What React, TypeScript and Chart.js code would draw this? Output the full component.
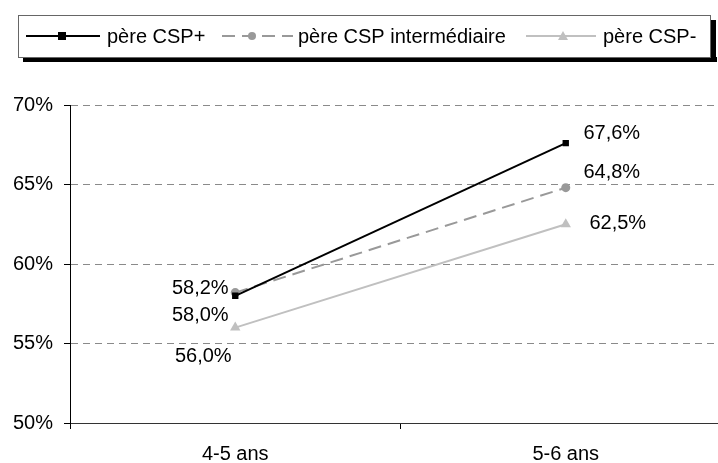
import React, { useEffect, useRef } from "react";
import { Chart, registerables } from "chart.js";

Chart.register(...registerables);

const categories = ["4-5 ans", "5-6 ans"];
const seriesNames = ["père CSP+", "père CSP intermédiaire", "père CSP-"];
const cspPlus = [58.0, 67.6];
const cspInter = [58.2, 64.8];
const cspMoins = [56.0, 62.5];
const yTicks = [50, 55, 60, 65, 70];

const FONT = "'Liberation Sans', Arial, sans-serif";

// label offsets (px) relative to each point: [dataset][point]
const labelOffsets = [
  [[-35, 20], [46, -10]],
  [[-35, -4], [46, -15]],
  [[-32, 29], [52, -1]],
];

const fmt = (v: number) => v.toFixed(1).replace(".", ",") + "%";

const dataLabelPlugin = {
  id: "dataLabels",
  afterDatasetsDraw(chart: any) {
    const ctx = chart.ctx;
    ctx.save();
    ctx.font = `20px ${FONT}`;
    ctx.fillStyle = "#000";
    ctx.textAlign = "center";
    ctx.textBaseline = "middle";
    chart.data.datasets.forEach((ds: any, i: number) => {
      const meta = chart.getDatasetMeta(i);
      meta.data.forEach((pt: any, j: number) => {
        const off = labelOffsets[i][j];
        ctx.fillText(fmt(ds.data[j]), pt.x + off[0], pt.y + off[1]);
      });
    });
    ctx.restore();
  },
};

function drawMarker(ctx: CanvasRenderingContext2D, style: string, x: number, y: number, color: string) {
  ctx.fillStyle = color;
  ctx.setLineDash([]);
  if (style === "rect") {
    ctx.fillRect(x - 4, y - 4, 8, 8);
  } else if (style === "circle") {
    ctx.beginPath();
    ctx.arc(x, y, 4, 0, Math.PI * 2);
    ctx.fill();
  } else {
    ctx.beginPath();
    ctx.moveTo(x, y - 5);
    ctx.lineTo(x + 5, y + 4);
    ctx.lineTo(x - 5, y + 4);
    ctx.closePath();
    ctx.fill();
  }
}

const legendPlugin = {
  id: "boxLegend",
  afterDraw(chart: any) {
    const ctx = chart.ctx as CanvasRenderingContext2D;
    const left = 18, top = 15, right = 710, bottom = 57;
    ctx.save();
    // shadow
    ctx.fillStyle = "#000";
    ctx.fillRect(left + 5, bottom, right - left + 2, 5);
    ctx.fillRect(right, top + 5, 6, bottom - top);
    // box
    ctx.fillStyle = "#fff";
    ctx.fillRect(left, top, right - left, bottom - top);
    ctx.strokeStyle = "#666";
    ctx.lineWidth = 1;
    ctx.strokeRect(left + 0.5, top + 0.5, right - left, bottom - top);
    const y = 36;
    const items = [
      { x1: 26, x2: 100, mx: 62, tx: 107 },
      { x1: 222, x2: 293, mx: 252, tx: 298 },
      { x1: 526, x2: 596, mx: 563, tx: 603 },
    ];
    ctx.font = `20px ${FONT}`;
    ctx.textBaseline = "middle";
    ctx.textAlign = "left";
    chart.data.datasets.forEach((ds: any, i: number) => {
      const it = items[i];
      ctx.strokeStyle = ds.borderColor;
      ctx.lineWidth = ds.borderWidth;
      ctx.setLineDash(ds.borderDash || []);
      ctx.beginPath();
      ctx.moveTo(it.x1, y);
      ctx.lineTo(it.x2, y);
      ctx.stroke();
      drawMarker(ctx, ds.pointStyle, it.mx, y, ds.pointBackgroundColor);
      ctx.fillStyle = "#000";
      ctx.fillText(ds.label, it.tx, y + 1);
    });
    ctx.restore();
  },
};

export default function App() {
  const ref = useRef<HTMLCanvasElement | null>(null);
  useEffect(() => {
    if (!ref.current) return;
    Chart.defaults.font.family = FONT;
    const chart = new Chart(ref.current, {
      type: "line",
      data: {
        labels: categories,
        datasets: [
          {
            label: seriesNames[0],
            data: cspPlus,
            borderColor: "#000000",
            backgroundColor: "#000000",
            pointBackgroundColor: "#000000",
            pointBorderColor: "#000000",
            borderWidth: 2,
            pointStyle: "rect",
            pointRadius: 4.5,
            pointBorderWidth: 0,
          },
          {
            label: seriesNames[1],
            data: cspInter,
            borderColor: "#999999",
            backgroundColor: "#999999",
            pointBackgroundColor: "#999999",
            pointBorderColor: "#999999",
            borderWidth: 2,
            borderDash: [13, 7],
            pointStyle: "circle",
            pointRadius: 4.5,
            pointBorderWidth: 0,
          },
          {
            label: seriesNames[2],
            data: cspMoins,
            borderColor: "#c0c0c0",
            backgroundColor: "#c0c0c0",
            pointBackgroundColor: "#c0c0c0",
            pointBorderColor: "#c0c0c0",
            borderWidth: 2,
            pointStyle: "triangle",
            pointRadius: 6,
            pointBorderWidth: 0,
          },
        ],
      },
      options: {
        responsive: false,
        animation: false,
        devicePixelRatio: 1,
        layout: { padding: { top: 105, right: 9, left: 0, bottom: 0 } },
        plugins: { legend: { display: false }, tooltip: { enabled: false } },
        scales: {
          x: {
            offset: true,
            grid: {
              offset: true,
              drawOnChartArea: false,
              drawTicks: true,
              tickLength: 6,
              tickColor: "#000",
              color: "#000",
            },
            border: { display: true, color: "#333", width: 1 },
            ticks: { color: "#000", font: { size: 20, family: FONT }, padding: 13 },
            afterFit: (s: any) => { s.height = 40; },
          },
          y: {
            min: 50,
            max: 70,
            afterBuildTicks: (s: any) => { s.ticks = yTicks.map((v) => ({ value: v })); },
            grid: {
              color: "#8a8a8a",
              lineWidth: 1,
              drawTicks: true,
              tickLength: 6,
              tickColor: "#000",
              tickBorderDash: [],
            },
            border: { display: true, color: "#000", width: 1, dash: [7, 5] },
            ticks: {
              color: "#000",
              font: { size: 20, family: FONT },
              padding: 11,
              callback: (v: any) => v + "%",
            },
            afterFit: (s: any) => { s.width = 70; },
          },
        },
      },
      plugins: [dataLabelPlugin, legendPlugin],
    });
    return () => chart.destroy();
  }, []);
  return (
    <div style={{ position: "fixed", left: 0, top: 0, width: 718, height: 463, overflow: "hidden", background: "#fff" }}>
      <canvas ref={ref} width={740} height={463} style={{ display: "block", width: 740, height: 463 }} />
    </div>
  );
}
